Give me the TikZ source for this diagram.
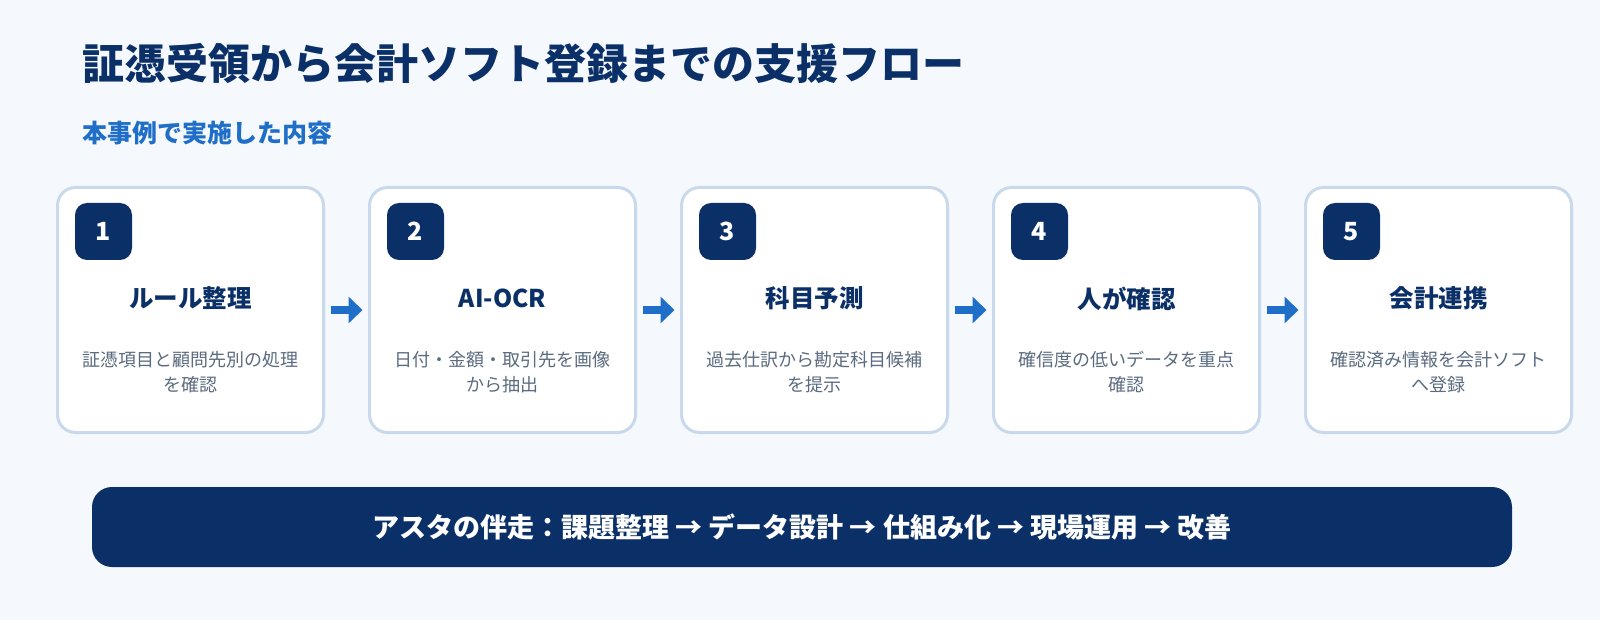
\documentclass[tikz,border=0pt]{standalone}
\usepackage{fontspec}
\setmainfont{Noto Sans CJK JP}
\usetikzlibrary{arrows.meta,positioning}
\definecolor{pagebg}{HTML}{F5F9FE}
\definecolor{navy}{HTML}{0B3068}
\definecolor{accent}{HTML}{1F6FC8}
\definecolor{cardline}{HTML}{C8D9EC}
\definecolor{desc}{HTML}{5B6B80}

\begin{document}
\begin{tikzpicture}[x=1pt, y=-1pt, node distance=46pt, every node/.style={align=center, inner sep=0pt, outer sep=0pt},
  card/.style={draw=cardline, line width=3pt, fill=white, rounded corners=18pt, minimum width=266pt, minimum height=245pt},
  badge/.style={fill=navy, rounded corners=12pt, minimum width=57pt, minimum height=57pt, text=white, font=\fontsize{25}{28}\selectfont\bfseries},
  cardtitle/.style={text=navy, font=\fontsize{24.5}{28}\selectfont\bfseries},
  cardtext/.style={text=desc, font=\fontsize{18}{25}\selectfont},
  flow/.style={-{Triangle[length=14pt,width=26pt]}, line width=8pt, draw=accent}]
\fill[pagebg] (0,0) rectangle (1600,620);
\useasboundingbox (0,0) rectangle (1600,620);
\node[anchor=west, text=navy, font=\fontsize{42}{50}\selectfont\bfseries] (title) at (82,63) {証憑受領から会計ソフト登録までの支援フロー};
\node[anchor=west, text=accent, font=\fontsize{25}{30}\selectfont\bfseries] (subtitle) at (82,133) {本事例で実施した内容};
% cards
\node[card] (card1) at (190.5,310) {};
\node[card, right=of card1] (card2) {};
\node[card, right=of card2] (card3) {};
\node[card, right=of card3] (card4) {};
\node[card, right=of card4] (card5) {};
% badges, titles, texts
\node[badge] (b1) at ([xshift=46pt,yshift=-44pt]card1.north west) {1};
\node[cardtitle] (t1) at ([yshift=-111pt]card1.north) {ルール整理};
\node[cardtext] (d1) at ([yshift=-185pt]card1.north) {証憑項目と顧問先別の処理\\を確認};
\node[badge] (b2) at ([xshift=46pt,yshift=-44pt]card2.north west) {2};
\node[cardtitle] (t2) at ([yshift=-111pt]card2.north) {AI-OCR};
\node[cardtext] (d2) at ([yshift=-185pt]card2.north) {日付・金額・取引先を画像\\から抽出};
\node[badge] (b3) at ([xshift=46pt,yshift=-44pt]card3.north west) {3};
\node[cardtitle] (t3) at ([yshift=-111pt]card3.north) {科目予測};
\node[cardtext] (d3) at ([yshift=-185pt]card3.north) {過去仕訳から勘定科目候補\\を提示};
\node[badge] (b4) at ([xshift=46pt,yshift=-44pt]card4.north west) {4};
\node[cardtitle] (t4) at ([yshift=-111pt]card4.north) {人が確認};
\node[cardtext] (d4) at ([yshift=-185pt]card4.north) {確信度の低いデータを重点\\確認};
\node[badge] (b5) at ([xshift=46pt,yshift=-44pt]card5.north west) {5};
\node[cardtitle] (t5) at ([yshift=-111pt]card5.north) {会計連携};
\node[cardtext] (d5) at ([yshift=-185pt]card5.north) {確認済み情報を会計ソフト\\へ登録};
% arrows
\draw[flow] ([xshift=7pt]card1.east) -- ([xshift=-7pt]card2.west);
\draw[flow] ([xshift=7pt]card2.east) -- ([xshift=-7pt]card3.west);
\draw[flow] ([xshift=7pt]card3.east) -- ([xshift=-7pt]card4.west);
\draw[flow] ([xshift=7pt]card4.east) -- ([xshift=-7pt]card5.west);
% support bar
\node[fill=navy, rounded corners=20pt, minimum width=1420pt, minimum height=80pt, text=white, font=\fontsize{27}{30}\selectfont\bfseries] (support) at (802,527) {アスタの伴走：課題整理 → データ設計 → 仕組み化 → 現場運用 → 改善};
\end{tikzpicture}
\end{document}
